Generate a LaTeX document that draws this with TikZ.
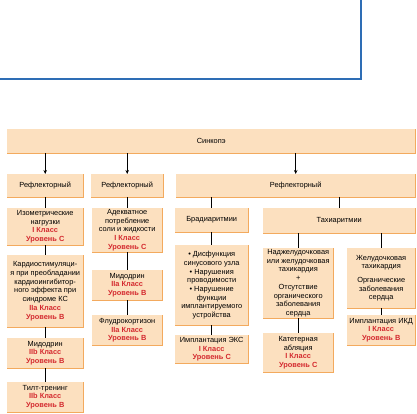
\documentclass[tikz,border=0pt]{standalone}
\usepackage{fontspec}
\setmainfont{Liberation Sans}
\usetikzlibrary{arrows.meta}

\definecolor{boxfill}{HTML}{FCE0BF}
\definecolor{boxedge}{HTML}{F3AA5E}
\definecolor{frameblue}{HTML}{2E6DB5}
\definecolor{classred}{HTML}{D42A2F}

\tikzset{
  box/.style={fill=boxfill, anchor=north west, inner sep=1pt, align=center,
    font=\fontsize{7.4}{8.7}\selectfont},
  boxsize/.style 2 args={minimum width=#1, minimum height=#2},
  link/.style={line width=0.8pt},
  feed/.style={line width=0.8pt, -{Stealth[length=4pt, width=3.5pt]}},
}

% class / level lines in red
\newcommand{\cls}[2]{\\\textcolor{classred}{\bfseries #1 Класс}\\\textcolor{classred}{\bfseries Уровень #2}}

\begin{document}
\begin{tikzpicture}[x=1pt, y=-1pt]

  \useasboundingbox (0,0) rectangle (417,413);

  % ---- Blue frame at the top ----
  \draw[frameblue, line width=1.2pt] (0,79) -- (361,79) -- (361,0);

  % ---- Top box ----
  \node[box, boxsize={408}{24}] (syn) at (7,129) {Синкопэ};

  % ---- Row 2 ----
  \node[box, boxsize={76}{23}]  (r1) at (7,174)   {Рефлекторный};
  \node[box, boxsize={72}{23}]  (r2) at (91,174)  {Рефлекторный};
  \node[box, boxsize={239}{23}] (r3) at (176,174) {Рефлекторный};

  % ---- Column 1 ----
  \node[box, boxsize={76}{37}] (iso)  at (7,208) {Изометрические\\нагрузки\cls{I}{С}};
  \node[box, boxsize={76}{72}] (kst)  at (7,255) {Кардиостимуляци-\\я при преобладании\\кардиоингибитор-\\ного эффекта при\\синдроме КС\cls{IIa}{В}};
  \node[box, boxsize={76}{30}] (mid1) at (7,338) {Мидодрин\cls{IIb}{В}};
  \node[box, boxsize={76}{30}] (tilt) at (7,382) {Тилт-тренинг\cls{IIb}{В}};

  % ---- Column 2 ----
  \node[box, boxsize={70}{44}] (ade)  at (92,208) {Адекватное\\потребление\\соли и жидкости\cls{I}{С}};
  \node[box, boxsize={70}{30}] (mid2) at (92,270) {Мидодрин\cls{IIa}{В}};
  \node[box, boxsize={70}{30}] (flu)  at (92,315) {Флудрокортизон\cls{IIa}{В}};

  % ---- Column 3: bradyarrhythmias ----
  \node[box, boxsize={73}{24}] (br)  at (175,208) {Брадиаритмии};
  \node[box, boxsize={73}{80}] (brl) at (175,245) {• Дисфункция\\синусового узла\\• Нарушения\\проводимости\\• Нарушение\\функции\\имплантируемого\\устройства};
  \node[box, boxsize={73}{28}] (eks) at (175,335) {Имплантация ЭКС\cls{I}{С}};

  % ---- Column 3: tachyarrhythmias ----
  \node[box, boxsize={152}{25}] (ta)  at (263,208) {Тахиаритмии};
  \node[box, boxsize={70}{70}]  (tl)  at (263,248) {Наджелудочковая\\или желудочковая\\тахикардия\\+\\Отсутствие\\органического\\заболевания\\сердца};
  \node[box, boxsize={68}{60}]  (tr)  at (347,248) {Желудочковая\\тахикардия\\[5pt]Органические\\заболевания\\сердца};
  \node[box, boxsize={70}{39}]  (abl) at (263,333) {Катетерная\\абляция\cls{I}{С}};
  \node[box, boxsize={68}{30}]  (icd) at (347,315) {Имплантация ИКД\cls{I}{В}};

  % ---- Orange edge on the right and bottom of each box ----
  \foreach \n in {syn,r1,r2,r3,iso,kst,mid1,tilt,ade,mid2,flu,br,brl,eks,ta,tl,tr,abl,icd}
    \draw[boxedge, line width=1.2pt] (\n.north east) -- (\n.south east) -- (\n.south west);

  % ---- Arrows from the top box ----
  \draw[feed] (syn.south -| r1.north) -- (r1.north);
  \draw[feed] (syn.south -| r2.north) -- (r2.north);
  \draw[feed] (syn.south -| r3.north) -- (r3.north);

  % ---- Plain links ----
  \draw[link] (r1) -- (iso);
  \draw[link] (iso) -- (kst);
  \draw[link] (kst) -- (mid1);
  \draw[link] (mid1) -- (tilt);
  \draw[link] (r2) -- (ade);
  \draw[link] (ade) -- (mid2);
  \draw[link] (mid2) -- (flu);
  \draw[link] (br.north |- r3.south) -- (br.north);
  \draw[link] (ta.north |- r3.south) -- (ta.north);
  \draw[link] (br) -- (brl);
  \draw[link] (brl) -- (eks);
  \draw[link] (tl.north |- ta.south) -- (tl.north);
  \draw[link] (tr.north |- ta.south) -- (tr.north);
  \draw[link] (tl) -- (abl);
  \draw[link] (tr) -- (icd);

\end{tikzpicture}
\end{document}
